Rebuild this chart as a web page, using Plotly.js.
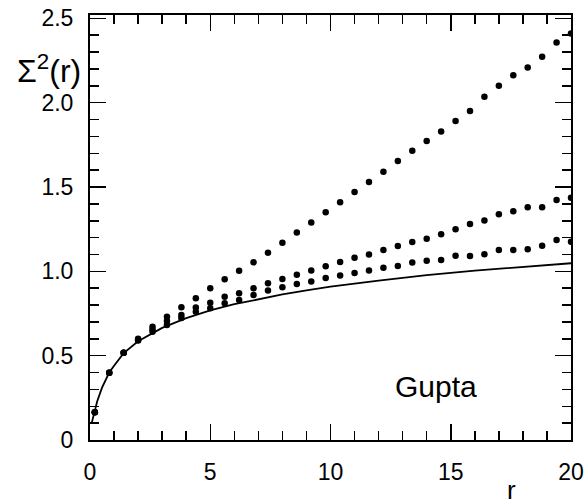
<!DOCTYPE html>
<html>
<head>
<meta charset="utf-8">
<script src="https://cdn.plot.ly/plotly-3.0.1.min.js"></script>
<style>html,body{margin:0;padding:0;background:#fff;}#chart{width:584px;height:504px;}</style>
</head>
<body>
<div id="chart"></div>
<script>
// r values of the data points
const rPoints = [0.2, 0.8, 1.4, 2.0, 2.6, 3.2, 3.8, 4.4, 5.0, 5.6, 6.2, 6.8, 7.4, 8.0, 8.6, 9.2, 9.8,
  10.4, 11.0, 11.6, 12.2, 12.8, 13.4, 14.0, 14.6, 15.2, 15.8, 16.4, 17.0, 17.6, 18.2, 18.8, 19.4, 20.0];
// upper dotted series
const seriesTop = [0.164, 0.399, 0.518, 0.600, 0.672, 0.731, 0.787, 0.840, 0.900, 0.953, 1.004, 1.054, 1.111,
  1.170, 1.230, 1.290, 1.350, 1.410, 1.470, 1.530, 1.590, 1.655, 1.715, 1.773, 1.829, 1.892, 1.951, 2.036,
  2.100, 2.163, 2.208, 2.272, 2.357, 2.410];
// middle dotted series
const seriesMid = [0.164, 0.399, 0.518, 0.593, 0.655, 0.705, 0.741, 0.785, 0.814, 0.850, 0.870, 0.900, 0.929,
  0.955, 0.980, 1.005, 1.030, 1.055, 1.080, 1.100, 1.127, 1.151, 1.174, 1.194, 1.220, 1.250, 1.281, 1.301,
  1.339, 1.357, 1.380, 1.380, 1.423, 1.437];
// lower dotted series
const seriesLow = [0.164, 0.399, 0.518, 0.590, 0.642, 0.682, 0.723, 0.761, 0.781, 0.811, 0.830, 0.860, 0.886,
  0.905, 0.925, 0.940, 0.960, 0.975, 0.990, 1.005, 1.022, 1.032, 1.052, 1.063, 1.068, 1.093, 1.091, 1.101,
  1.127, 1.127, 1.131, 1.152, 1.186, 1.176];
// solid theoretical curve
const rCurve = [0.07, 0.17, 0.3, 0.5, 0.8, 1.0, 1.4, 2.0, 2.6, 3.0, 4.0, 5.0, 6.0, 7.0, 8.0, 9.0, 10.0,
  12.0, 14.0, 16.0, 18.0, 20.0];
const sigmaCurve = [0.10, 0.165, 0.23, 0.31, 0.40, 0.44, 0.515, 0.585, 0.635, 0.665, 0.723, 0.768, 0.805,
  0.836, 0.863, 0.887, 0.909, 0.945, 0.977, 1.004, 1.028, 1.048];
// tick labels
const xTickVals = [0, 5, 10, 15, 20];
const xTickText = ['0', '5', '10', '15', '20'];
const yTickVals = [0, 0.5, 1.0, 1.5, 2.0, 2.5];
const yTickText = ['0', '0.5', '1.0', '1.5', '2.0', '2.5'];

const font = 'Liberation Sans, Arial, Helvetica, sans-serif';
const dot = {color: '#000', size: 6.5};

const traces = [
  {x: rCurve, y: sigmaCurve, mode: 'lines', line: {color: '#000', width: 1.8}, type: 'scatter'},
  {x: rPoints, y: seriesTop, mode: 'markers', marker: dot, type: 'scatter'},
  {x: rPoints, y: seriesMid, mode: 'markers', marker: dot, type: 'scatter'},
  {x: rPoints, y: seriesLow, mode: 'markers', marker: dot, type: 'scatter'}
];

const axisCommon = {
  showline: true, linecolor: '#000', linewidth: 2, mirror: 'allticks',
  ticks: 'inside', ticklen: 16, tickwidth: 1.5, tickcolor: '#000',
  showgrid: false, zeroline: false,
  tickfont: {family: font, size: 23, color: '#000'},
  ticklabelstandoff: 10
};

const layout = {
  width: 584, height: 504,
  margin: {l: 90, r: 13, t: 15, b: 64},
  paper_bgcolor: '#fff', plot_bgcolor: '#fff',
  showlegend: false,
  xaxis: Object.assign({}, axisCommon, {
    range: [0, 20], tickmode: 'array', tickvals: xTickVals, ticktext: xTickText,
    minor: {dtick: 1, ticks: 'inside', ticklen: 9, tickwidth: 1.5, tickcolor: '#000', showgrid: false}
  }),
  yaxis: Object.assign({}, axisCommon, {
    range: [0, 2.52], tickmode: 'array', tickvals: yTickVals, ticktext: yTickText,
    minor: {dtick: 0.1, ticks: 'inside', ticklen: 9, tickwidth: 1.5, tickcolor: '#000', showgrid: false}
  }),
  annotations: [
    {text: 'Σ<sup>2</sup>(r)', xref: 'paper', yref: 'paper', x: -0.014, y: 0.872,
     xanchor: 'right', yanchor: 'middle', showarrow: false, font: {family: font, size: 32, color: '#000'}},
    {text: 'r', xref: 'paper', yref: 'paper', x: 0.877, y: -0.158,
     xanchor: 'center', yanchor: 'bottom', showarrow: false, font: {family: font, size: 26, color: '#000'}},
    {text: 'Gupta', xref: 'x', yref: 'y', x: 14.4, y: 0.32,
     xanchor: 'center', yanchor: 'middle', showarrow: false, font: {family: font, size: 30, color: '#000'}}
  ]
};

Plotly.newPlot('chart', traces, layout, {staticPlot: true, displayModeBar: false});
</script>
</body>
</html>
